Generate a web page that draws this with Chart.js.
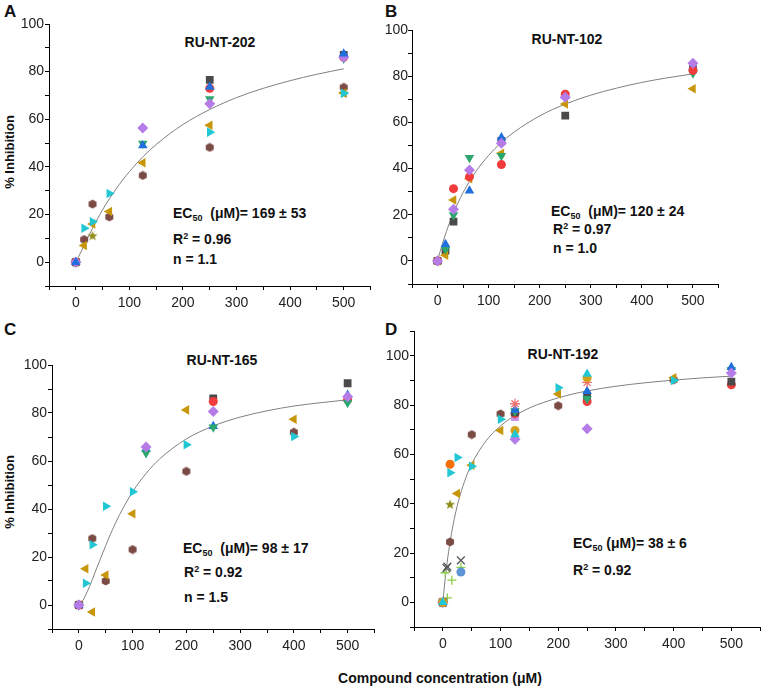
<!DOCTYPE html>
<html>
<head>
<meta charset="utf-8">
<script src="https://cdn.jsdelivr.net/npm/chart.js@4.4.0/dist/chart.umd.min.js"></script>
<style>
  body { margin: 0; background: #fff; }
  #page { position: relative; width: 767px; height: 687px; overflow: hidden; font-family: "Liberation Sans", Arial, sans-serif; color: #111; }
  canvas { position: absolute; }
  .txt { position: absolute; font-weight: bold; font-size: 14px; line-height: 14px; white-space: nowrap; }
  .letter { position: absolute; font-weight: bold; font-size: 17px; line-height: 17px; }
  .title { transform: translateX(-50%); }
  .ylab { position: absolute; font-weight: bold; font-size: 13px; line-height: 13px; white-space: nowrap; transform: translate(-50%, -50%) rotate(-90deg); }
  sub { font-size: 9px; vertical-align: -3px; line-height: 0; }
  sup { font-size: 9px; vertical-align: 5px; line-height: 0; }
</style>
</head>
<body>
<div id="page">
  <div class="letter" style="left:4px;top:3px">A</div>
  <div class="letter" style="left:385px;top:3px">B</div>
  <div class="letter" style="left:4px;top:321px">C</div>
  <div class="letter" style="left:385px;top:321px">D</div>

  <div class="txt title" style="left:220px;top:35px">RU-NT-202</div>
  <div class="txt title" style="left:567px;top:32px">RU-NT-102</div>
  <div class="txt title" style="left:222px;top:353px">RU-NT-165</div>
  <div class="txt title" style="left:563px;top:347px">RU-NT-192</div>

  <div class="txt" style="left:173px;top:206px">EC<sub>50</sub>&nbsp; (μM)= 169 ± 53</div>
  <div class="txt" style="left:173px;top:232px">R<sup>2</sup> = 0.96</div>
  <div class="txt" style="left:173px;top:252px">n = 1.1</div>

  <div class="txt" style="left:551px;top:204px">EC<sub>50</sub>&nbsp; (μM)= 120 ± 24</div>
  <div class="txt" style="left:553px;top:222px">R<sup>2</sup> = 0.97</div>
  <div class="txt" style="left:553px;top:241px">n = 1.0</div>

  <div class="txt" style="left:183px;top:541px">EC<sub>50</sub>&nbsp; (μM)= 98 ± 17</div>
  <div class="txt" style="left:184px;top:565px">R<sup>2</sup> = 0.92</div>
  <div class="txt" style="left:184px;top:590px">n = 1.5</div>

  <div class="txt" style="left:573px;top:536px">EC<sub>50</sub> (μM)= 38 ± 6</div>
  <div class="txt" style="left:573px;top:563px">R<sup>2</sup> = 0.92</div>

  <div class="ylab" style="left:9px;top:152px">% Inhibition</div>
  <div class="ylab" style="left:9px;top:492px">% Inhibition</div>

  <div class="txt title" style="left:440px;top:671px">Compound concentration (μM)</div>
</div>

<script>
// ---- data: panel A (RU-NT-202)
var concA = [0, 15.6, 31.25, 62.5, 125, 250, 500];
var aSquare = [0, null, null, null, null, 76.5, 87.0];
var aRed = [0, null, null, null, null, 73.0, 86.0];
var aBlueUp = [0, null, null, null, 49.0, 73.5, 87.5];
var aGreenDown = [0, null, null, null, 49.8, 68.5, 85.5];
var aPurple = [0, null, null, null, 56.3, 66.5, 86.0];
var aGoldLeft = [0, 7.0, 16.0, 21.3, 41.7, 57.5, 71.0];
var aCyanRight = [0, 14.2, 17.0, 28.8, null, 54.6, 70.9];
var aBrown = [0, 9.5, 24.4, 19.0, 36.4, 48.2, 73.4];
var aStar = [0, null, 11.2, null, null, null, 71.0];
var fitXA = [0, 5, 10, 25, 50, 75, 100, 125, 150, 200, 250, 300, 350, 400, 450, 500];
var fitYA = [0, 2.2, 4.5, 11.5, 22.0, 30.7, 38.0, 44.2, 49.4, 57.8, 64.1, 69.1, 73.0, 76.2, 78.9, 81.2];

// ---- data: panel B (RU-NT-102)
var concB = [0, 15.6, 31.25, 62.5, 125, 250, 500];
var bSquare = [0, 4.5, 17.0, null, 52.0, 62.9, 83.0];
var bRed = [0, null, 31.3, 36.4, 41.7, 72.2, 82.5];
var bBlueUp = [0, 7.2, null, 30.4, 53.4, 71.5, 84.0];
var bGreenDown = [0, 5.0, 19.9, 44.7, 45.5, null, 81.3];
var bPurple = [0, null, 22.4, 39.4, 51.0, 70.9, 85.6];
var bGoldLeft = [0, 2.5, 26.4, 35.6, 46.6, 68.0, 74.6];
var fitXB = [0, 5, 10, 15, 20, 30, 40, 50, 75, 100, 125, 150, 200, 250, 300, 350, 400, 450, 500];
var fitYB = [0, 4.0, 7.7, 11.2, 14.4, 20.1, 25.1, 29.6, 38.7, 45.7, 51.3, 55.8, 62.8, 67.9, 71.8, 74.8, 77.3, 79.3, 81.0];

// ---- data: panel C (RU-NT-165)
var concC = [0, 12.5, 25, 50, 100, 125, 200, 250, 400, 500];
var cSquare = [0, null, null, null, null, null, null, 86.1, null, 92.4];
var cRed = [0, null, null, null, null, null, null, 84.8, null, 85.5];
var cBlueUp = [0, null, null, null, null, 65.0, null, 74.5, null, 87.5];
var cGreenDown = [0, null, null, null, null, 63.3, null, 74.1, null, 84.3];
var cPurple = [0, null, null, null, null, 65.8, null, 80.6, null, 86.8];
var cGoldLeft = [0, 15.1, -2.9, 12.5, 38.0, null, 81.3, null, 77.4, null];
var cCyanRight = [0, 9.1, 25.1, 41.1, 47.2, null, 66.8, null, 70.2, null];
var cBrown = [0, null, 27.7, 10.0, 23.1, null, 55.7, null, 72.0, null];
var fitXC = [0, 5, 10, 12.5, 20, 25, 30, 40, 50, 62.5, 75, 87.5, 100, 125, 150, 200, 250, 300, 350, 400, 450, 500];
var fitYC = [0, 1.1, 2.9, 4.1, 7.8, 10.6, 13.5, 19.2, 24.8, 31.4, 37.3, 42.5, 47.2, 54.8, 60.8, 69.2, 74.6, 78.3, 80.9, 82.9, 84.3, 85.5];

// ---- data: panel D (RU-NT-192)
var concD = [0, 3.9, 6.25, 7.8, 12.5, 15.6, 25, 31.25, 50, 100, 125, 200, 250, 400, 500];
var dSquare = [0, null, null, null, null, null, null, null, null, null, 77.0, null, 83.8, null, 89.5];
var dRed = [0, null, null, null, null, null, null, null, null, null, 76.5, null, 81.4, null, 88.2];
var dBlueUp = [0, null, null, null, null, null, null, null, null, null, 78.0, null, 85.6, null, 95.3];
var dGreenDown = [0, null, null, null, null, null, null, null, null, null, 77.5, null, 82.5, null, 94.2];
var dPurple = [0, null, null, null, null, null, null, null, null, null, 66.1, null, 70.4, null, 93.0];
var dGoldLeft = [0, null, null, null, null, null, 44.1, null, 55.6, 69.7, null, 84.5, null, 91.0, null];
var dCyanRight = [0, null, null, null, 52.5, null, 58.7, null, 55.2, 74.2, null, 87.0, null, 89.9, null];
var dBrown = [0, null, null, null, 24.5, null, null, null, 68.0, 76.4, null, 79.7, null, 90.2, null];
var dStar = [0, null, null, null, 39.8, null, null, null, null, null, null, null, null, null, null];
var dCross = [0, null, 13.9, 14.5, null, null, null, 17.0, null, null, null, null, null, null, null];
var dPlus = [0, 12.0, null, 1.8, null, 9.0, null, 14.2, null, null, null, null, null, null, null];
var dLightBlue = [0, null, null, null, null, null, null, 12.3, null, null, null, null, null, null, null];
var dOrange = [0, null, null, null, 56.0, null, null, null, null, null, null, null, null, null, null];
var dGoldCircle = [0, null, null, null, null, null, null, null, null, null, 69.7, null, 91.0, null, null];
var dCyanUp = [0, null, null, null, null, null, null, null, null, null, 68.0, null, 92.6, null, null];
var dPink = [0, null, null, null, null, null, null, null, null, null, 80.5, null, 89.2, null, null];
var dLavender = [0, null, null, null, null, null, null, null, null, null, 75.1, null, null, null, null];
var fitXD = [0, 2.5, 5, 7.5, 10, 12.5, 15, 20, 25, 30, 40, 50, 75, 100, 125, 150, 200, 250, 300, 350, 400, 450, 500];
var fitYD = [0, 6.1, 11.5, 16.3, 20.6, 24.4, 27.9, 34.0, 39.2, 43.5, 50.6, 56.1, 65.5, 71.5, 75.7, 78.8, 82.9, 85.7, 87.6, 89.0, 90.1, 91.0, 91.7];

var FONT = '"Liberation Sans", Arial, sans-serif';

// custom marker images
function makeStar(color) {
    var c = document.createElement('canvas');
    c.width = 12; c.height = 12;
    var g = c.getContext('2d');
    g.fillStyle = color;
    g.beginPath();
    for (var i = 0; i < 10; i++) {
        var r = i % 2 ? 2.2 : 5.3;
        var a = -Math.PI / 2 + i * Math.PI / 5;
        g.lineTo(6 + r * Math.cos(a), 6.5 + r * Math.sin(a));
    }
    g.closePath();
    g.fill();
    return c;
}
function makeHex(color) {
    var c = document.createElement('canvas');
    c.width = 10; c.height = 10;
    var g = c.getContext('2d');
    g.fillStyle = color;
    g.beginPath();
    for (var i = 0; i < 6; i++) {
        var a = -Math.PI / 2 + i * Math.PI / 3;
        g.lineTo(5 + 4.6 * Math.cos(a), 5 + 4.6 * Math.sin(a));
    }
    g.closePath();
    g.fill();
    return c;
}

// marker styles
var M = {
    square: { style: 'rect', color: '#4a4a4a', r: 5.5 },
    red: { style: 'circle', color: '#f23c3c', r: 4.5 },
    blueUp: { style: 'triangle', color: '#1f6fdc', r: 5.5 },
    greenDown: { style: 'triangle', rot: 180, color: '#2aa66e', r: 5.5 },
    purple: { style: 'rectRot', color: '#b57ce8', r: 5.5 },
    goldLeft: { style: 'triangle', rot: -90, color: '#c8960a', r: 5.5 },
    cyanRight: { style: 'triangle', rot: 90, color: '#22c7d4', r: 5.5 },
    brown: { style: makeHex('#7a4a45'), color: '#7a4a45', r: 5 },
    star: { style: makeStar('#8f8c1a'), color: '#8f8c1a', r: 5 },
    cross: { style: 'crossRot', color: '#555555', r: 5.5, line: true },
    plus: { style: 'cross', color: '#8ccf4a', r: 4.5, line: true },
    lightBlue: { style: 'circle', color: '#5b95d5', r: 4.5 },
    orange: { style: 'circle', color: '#f5700a', r: 4.5 },
    goldCircle: { style: 'circle', color: '#d4a017', r: 4.5 },
    cyanUp: { style: 'triangle', color: '#22c7d4', r: 5.5 },
    pink: { style: 'star', color: '#f07272', r: 5, line: true },
    lavender: { style: 'rect', color: '#c890e8', r: 5.5 }
};

function pts(xs, ys) {
    var out = [];
    for (var i = 0; i < xs.length; i++) {
        if (ys[i] !== null) out.push({ x: xs[i], y: ys[i] });
    }
    return out;
}

function markerSet(xs, ys, m) {
    return {
        data: pts(xs, ys),
        showLine: false,
        pointStyle: m.style,
        rotation: m.rot || 0,
        pointRadius: m.r,
        backgroundColor: m.line ? 'transparent' : m.color,
        borderColor: m.color,
        borderWidth: m.line ? 1.3 : 0,
        order: 0
    };
}

function fitSet(xs, ys) {
    return {
        data: pts(xs, ys),
        showLine: true,
        borderColor: '#808080',
        borderWidth: 1,
        pointRadius: 0,
        cubicInterpolationMode: 'monotone',
        order: 1
    };
}

// rect = plot area in page pixels
function makeChart(rect, yMax, datasets, labelPad) {
    var yw = 40, xh = 34, padTop = 10, padRight = 2;
    var cv = document.createElement('canvas');
    var w = rect.r - rect.l + yw + padRight;
    var h = rect.b - rect.t + padTop + xh;
    cv.width = w; cv.height = h;
    cv.style.left = (rect.l - yw) + 'px';
    cv.style.top = (rect.t - padTop) + 'px';
    document.getElementById('page').appendChild(cv);

    var axisGrid = { drawOnChartArea: false, drawTicks: true, tickLength: 4, color: '#000', lineWidth: 1 };
    var axisBorder = { display: true, color: '#000', width: 1 };

    new Chart(cv.getContext('2d'), {
        type: 'scatter',
        data: { datasets: datasets },
        options: {
            responsive: false,
            animation: false,
            events: [],
            layout: { padding: { top: padTop, right: padRight, left: 0, bottom: 0 } },
            plugins: { legend: { display: false }, tooltip: { enabled: false } },
            scales: {
                x: {
                    type: 'linear', min: -50, max: 550,
                    grid: axisGrid, border: axisBorder,
                    ticks: {
                        stepSize: 50, autoSkip: false, maxRotation: 0, padding: 5,
                        color: '#222', font: { family: FONT, size: 14 },
                        callback: function (v) { return (v >= 0 && v % 100 === 0) ? v : ''; }
                    },
                    afterFit: function (s) { s.height = xh; }
                },
                y: {
                    type: 'linear', min: -10, max: yMax,
                    grid: axisGrid, border: axisBorder,
                    ticks: {
                        stepSize: 10, autoSkip: false, padding: labelPad,
                        color: '#222', font: { family: FONT, size: 14 },
                        callback: function (v) { return (v >= 0 && v % 20 === 0) ? v : ''; }
                    },
                    afterFit: function (s) { s.width = yw; }
                }
            }
        }
    });
}

makeChart({ l: 49, r: 374, t: 24, b: 286 }, 100, [
    markerSet(concA, aBlueUp, M.blueUp),
    markerSet(concA, aPurple, M.purple),
    markerSet(concA, aRed, M.red),
    markerSet(concA, aSquare, M.square),
    markerSet(concA, aGreenDown, M.greenDown),
    markerSet(concA, aCyanRight, M.cyanRight),
    markerSet(concA, aStar, M.star),
    markerSet(concA, aGoldLeft, M.goldLeft),
    markerSet(concA, aBrown, M.brown),
    fitSet(fitXA, fitYA)
], 1);

makeChart({ l: 412, r: 722, t: 30, b: 284 }, 100, [
    markerSet(concB, bPurple, M.purple),
    markerSet(concB, bRed, M.red),
    markerSet(concB, bBlueUp, M.blueUp),
    markerSet(concB, bGreenDown, M.greenDown),
    markerSet(concB, bGoldLeft, M.goldLeft),
    markerSet(concB, bSquare, M.square),
    fitSet(fitXB, fitYB)
], 0);

makeChart({ l: 52, r: 378, t: 365, b: 629 }, 100, [
    markerSet(concC, cPurple, M.purple),
    markerSet(concC, cGreenDown, M.greenDown),
    markerSet(concC, cBlueUp, M.blueUp),
    markerSet(concC, cRed, M.red),
    markerSet(concC, cSquare, M.square),
    markerSet(concC, cCyanRight, M.cyanRight),
    markerSet(concC, cGoldLeft, M.goldLeft),
    markerSet(concC, cBrown, M.brown),
    fitSet(fitXC, fitYC)
], 1);

makeChart({ l: 414, r: 765, t: 331, b: 627 }, 110, [
    markerSet(concD, dCyanUp, M.cyanUp),
    markerSet(concD, dGoldCircle, M.goldCircle),
    markerSet(concD, dPink, M.pink),
    markerSet(concD, dPurple, M.purple),
    markerSet(concD, dBlueUp, M.blueUp),
    markerSet(concD, dGreenDown, M.greenDown),
    markerSet(concD, dSquare, M.square),
    markerSet(concD, dRed, M.red),
    markerSet(concD, dLavender, M.lavender),
    markerSet(concD, dCyanRight, M.cyanRight),
    markerSet(concD, dGoldLeft, M.goldLeft),
    markerSet(concD, dOrange, M.orange),
    markerSet(concD, dStar, M.star),
    markerSet(concD, dBrown, M.brown),
    markerSet(concD, dLightBlue, M.lightBlue),
    markerSet(concD, dCross, M.cross),
    markerSet(concD, dPlus, M.plus),
    fitSet(fitXD, fitYD)
], 1);
</script>
</body>
</html>
